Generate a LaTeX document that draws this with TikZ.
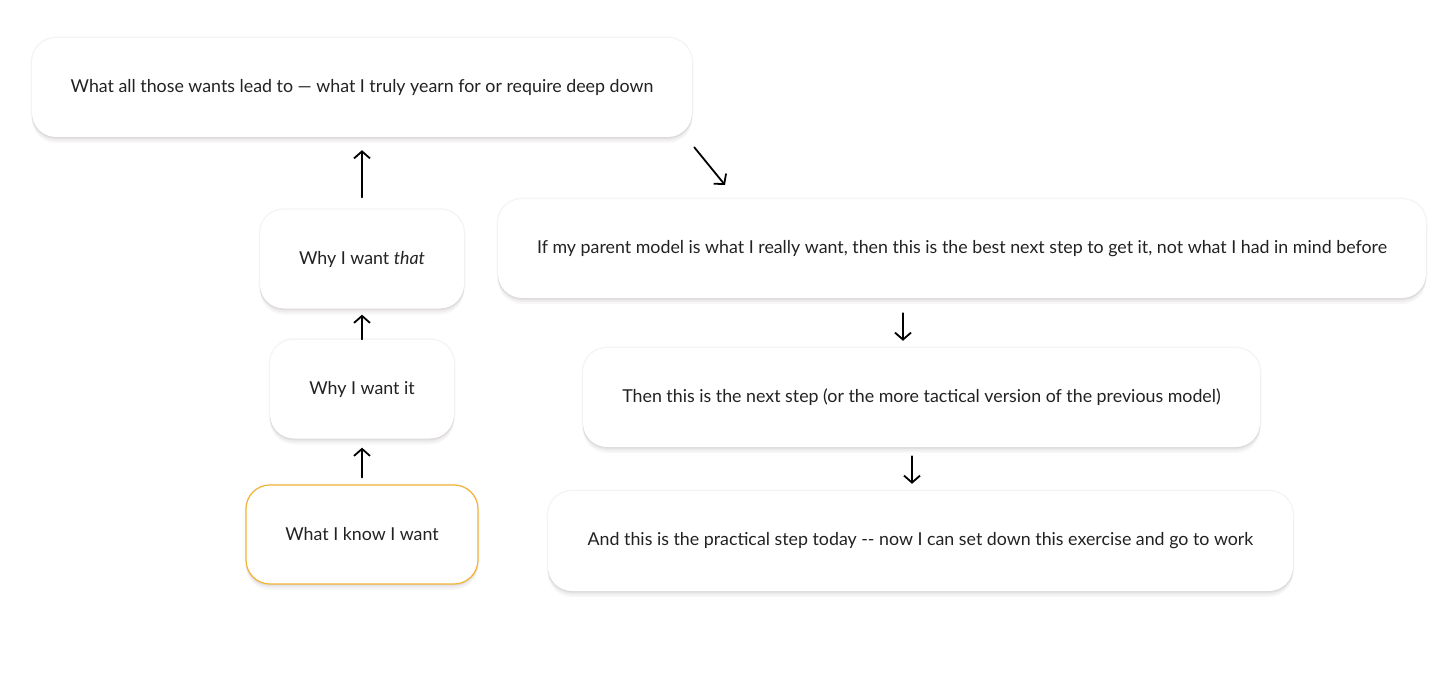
\documentclass[tikz,border=0pt]{standalone}
\usepackage{fontspec}
\setmainfont{Lato}
\usetikzlibrary{arrows.meta}
\definecolor{knowcol}{RGB}{242,180,55}
\definecolor{txtcol}{RGB}{34,34,34}
\definecolor{shadecol}{RGB}{90,70,80}

\begin{document}
\begin{tikzpicture}[x=1pt, y=-1pt, font=\fontsize{17.8}{21}\selectfont, line join=round, line cap=round, >={Straight Barb[length=7pt,width=16pt]},
 card/.style={rectangle, rounded corners=24pt, fill=white, text=txtcol, inner sep=0pt, minimum height=99pt,
  preaction={draw=shadecol, line width=3pt, opacity=0.03},
  preaction={draw=shadecol, line width=1.2pt, opacity=0.05},
  preaction={fill=shadecol, opacity=0.04, transform canvas={yshift=-6pt}},
  preaction={fill=shadecol, opacity=0.05, transform canvas={yshift=-4pt}},
  preaction={fill=shadecol, opacity=0.06, transform canvas={yshift=-2pt}}},
 link/.style={->, line width=1.8pt}]
 % Canvas
 \useasboundingbox[fill=white] (0,0) rectangle (1456,687);
 % Left column, read upwards
 \node[card, minimum width=660pt] (deep) at (362,87.5) {What all those wants lead to — what I truly yearn for or require deep down};
 \node[card, minimum width=204pt] (that) at (362,259) {Why I want \textit{that}};
 \node[card, minimum width=184pt] (it) at (362,389) {Why I want it};
 \node[card, minimum width=232pt, draw=knowcol, line width=1.2pt] (know) at (362,534.5) {What I know I want};
 \draw[link, shorten <=7pt, shorten >=9pt] (know.north) -- (it.south);
 \draw[link, shorten >=6pt] (it.north) -- (that.south);
 \draw[link, shorten <=12pt, shorten >=13pt] (that.north) -- (deep.south);
 % Right column, read downwards
 \node[card, minimum width=928pt] (parent) at (962,248.5) {If my parent model is what I really want, then this is the best next step to get it, not what I had in mind before};
 \node[card, minimum width=677pt] (tactic) at (921.5,397.5) {Then this is the next step (or the more tactical version of the previous model)};
 \node[card, minimum width=745pt, minimum height=100pt] (today) at (920.5,541) {And this is the practical step today -{}- now I can set down this exercise and go to work};
 \coordinate (turn) at (725,185);
 \draw[link] ([shift={(2,10)}]deep.south east) -- (turn);
 \draw[link] ([xshift=-59pt,yshift=-15pt]parent.south) -- ([xshift=-18.5pt,yshift=7pt]tactic.north);
 \draw[link] ([xshift=-9.5pt,yshift=-9pt]tactic.south) -- ([xshift=-8.5pt,yshift=7pt]today.north);
\end{tikzpicture}
\end{document}
